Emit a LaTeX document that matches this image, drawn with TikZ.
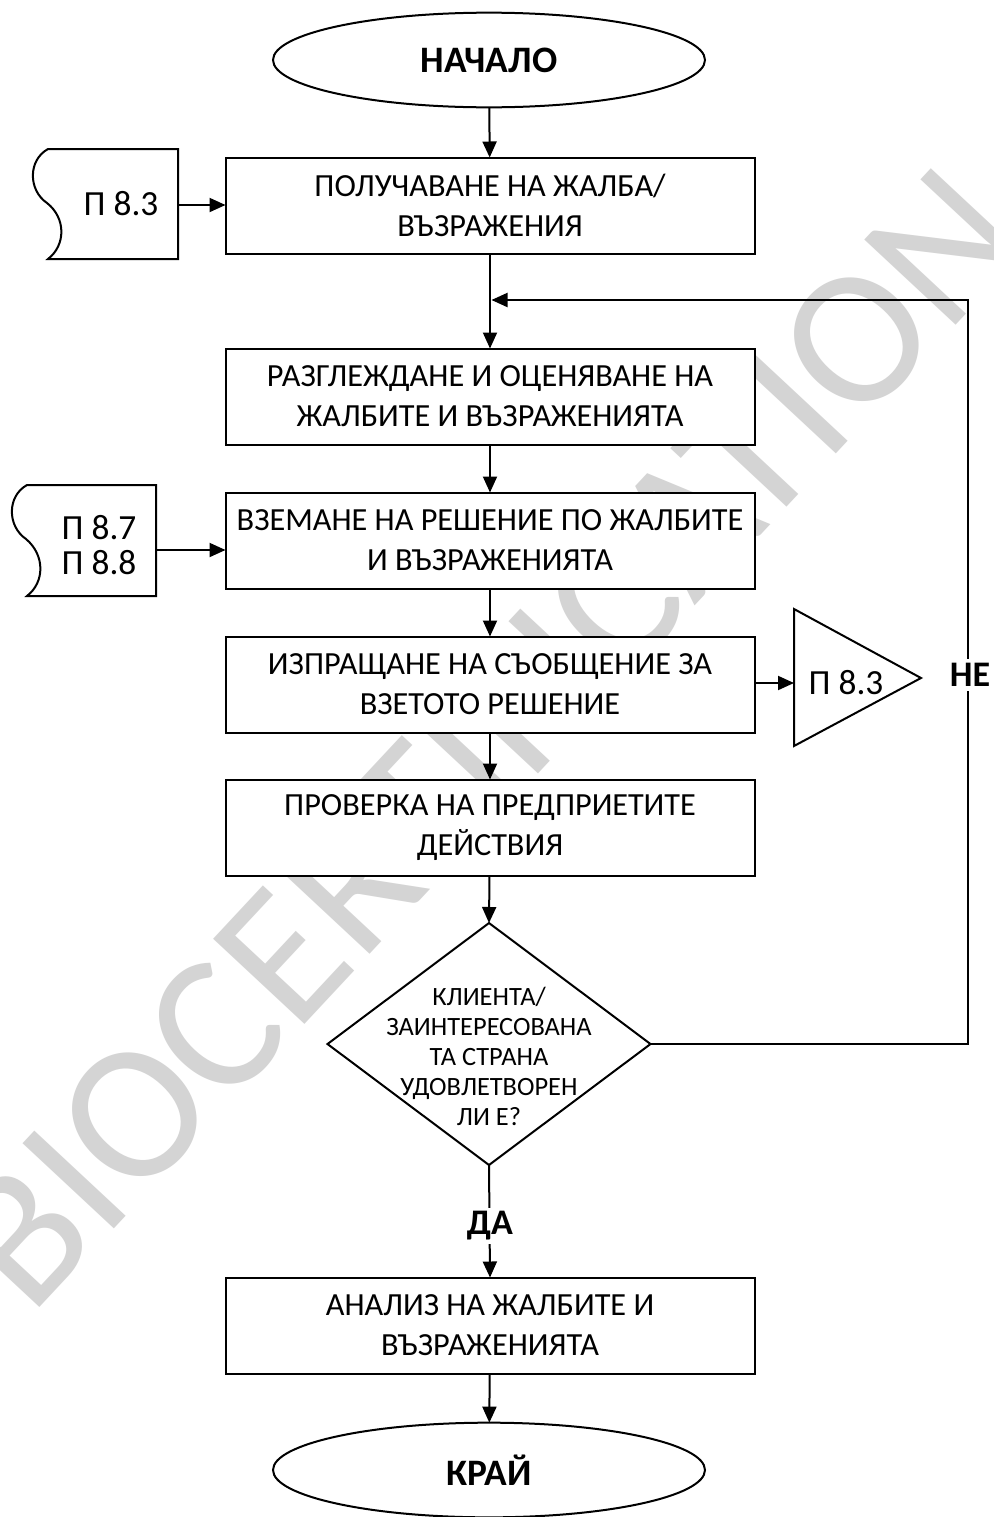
\documentclass[tikz,border=0pt]{standalone}
\usepackage{fontspec}
\setmainfont{Carlito}
\usetikzlibrary{shapes.geometric,arrows.meta}
\begin{document}
\begin{tikzpicture}[x=0.75pt,y=-0.75pt,
  line width=1.5pt,
  every node/.style={inner sep=0pt, outer sep=0pt},
  box/.style={draw, fill=white, minimum width=396.75pt, minimum height=72pt, align=center, font=\fontsize{24.2}{30}\selectfont},
  term/.style={ellipse, draw, fill=white, minimum width=324pt, minimum height=71pt, font=\bfseries\fontsize{28}{33}\selectfont},
  doctext/.style={align=center, font=\fontsize{26.5}{26.5}\selectfont},
  ask/.style={diamond, draw, fill=white, minimum width=242.25pt, minimum height=181.5pt},
  asktext/.style={align=center, font=\fontsize{19.8}{22.5}\selectfont},
  lbl/.style={fill=white, inner sep=3pt, font=\bfseries\fontsize{27}{30}\selectfont},
  arr/.style={-{Triangle[length=12pt,width=10.5pt]}},
  symb/.style={draw, fill=white},
  wmark/.style={text=black!17, font=\fontsize{146}{146}\selectfont}
]
\fill[white] (0,0) rectangle (994,1517);
\useasboundingbox (0,0) rectangle (994,1517);

% watermark
\node[wmark, rotate=47] (wm) at (486,738) {BIOCERTIFICATION};

% terminals
\node[term] (start) at (489,60) {НАЧАЛО};
\node[term] (end) at (489,1470) {КРАЙ};

% process boxes
\node[box] (b1) at (490,205.5) {ПОЛУЧАВАНЕ НА ЖАЛБА/\\ВЪЗРАЖЕНИЯ};
\node[box] (b2) at (490,396.5) {РАЗГЛЕЖДАНЕ И ОЦЕНЯВАНЕ НА\\ЖАЛБИТЕ И ВЪЗРАЖЕНИЯТА};
\node[box] (b3) at (490,540.5) {ВЗЕМАНЕ НА РЕШЕНИЕ ПО ЖАЛБИТЕ\\И ВЪЗРАЖЕНИЯТА};
\node[box] (b4) at (490,684.5) {ИЗПРАЩАНЕ НА СЪОБЩЕНИЕ ЗА\\ВЗЕТОТО РЕШЕНИЕ};
\node[box] (b5) at (490,827.5) {ПРОВЕРКА НА ПРЕДПРИЕТИТЕ\\ДЕЙСТВИЯ};
\node[box] (b6) at (490,1325.5) {АНАЛИЗ НА ЖАЛБИТЕ И\\ВЪЗРАЖЕНИЯТА};

% decision
\node[ask] (dia) at (489,1044) {};
\node[asktext] (diatext) at (489,1056) {КЛИЕНТА/\\ЗАИНТЕРЕСОВАНА\\ТА СТРАНА\\УДОВЛЕТВОРЕН\\ЛИ Е?};

% document symbols
\draw[symb] (48,149) -- (178,149) -- (178,259) -- (48,259)
  .. controls (66,245) and (66,218) .. (47,203)
  .. controls (28,190) and (28,160) .. (48,149) -- cycle;
\node[doctext] (d1text) at (121,204) {П 8.3};
\coordinate (d1out) at (178,205);

\draw[symb] (27,485) -- (156,485) -- (156,596) -- (27,596)
  .. controls (45,582) and (45,555) .. (26,539)
  .. controls (7,526) and (7,496) .. (27,485) -- cycle;
\node[doctext] (d2text) at (99,545) {П 8.7\\П 8.8};
\coordinate (d2out) at (156,550);

% triangle
\draw[symb] (794,609) -- (921,678) -- (794,746) -- cycle;
\coordinate (triin) at (794,683);
\node[doctext] (tritext) at (846,683) {П 8.3};

% connectors
\draw[arr] (start) -- (b1);
\draw[arr] (d1out) -- (b1.west |- d1out);
\draw[arr] (b1) -- (b2);
\draw[arr] (d2out) -- (b3.west |- d2out);
\draw[arr] (b2) -- (b3);
\draw[arr] (b3) -- (b4);
\draw[arr] (b4.east |- triin) -- (triin);
\draw[arr] (b4) -- (b5);
\draw[arr] (b5) -- (dia.north);
\coordinate (fbin) at (491.5,300);
\draw[arr] (dia.east) -- (968,1044) -- (968,300) -- (fbin);
\node[lbl] (ne) at (970,675) {НЕ};
\draw[arr] (dia.south) -- (b6.north);
\node[lbl] (da) at (490,1226) {ДА};
\draw[arr] (b6) -- (end);
\end{tikzpicture}
\end{document}
